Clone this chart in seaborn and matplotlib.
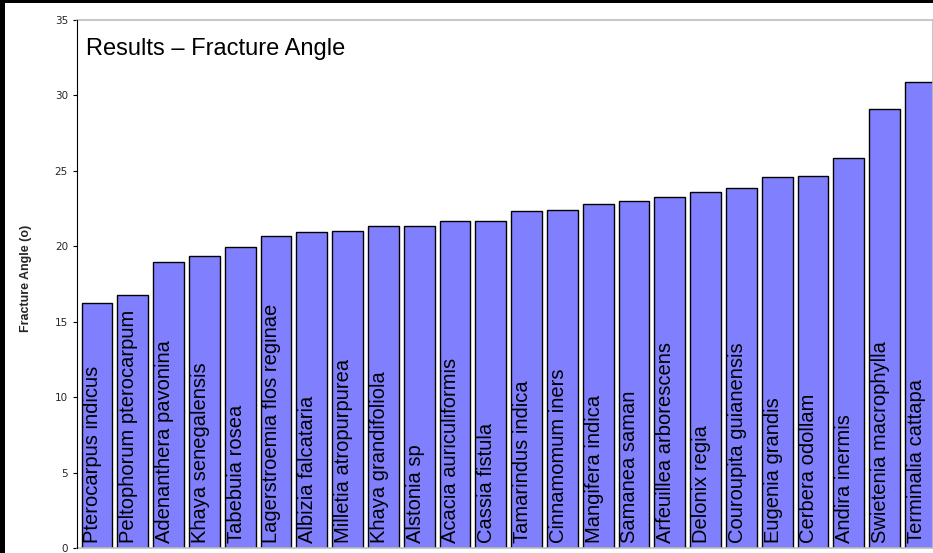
import matplotlib
matplotlib.use("Agg")
import matplotlib.pyplot as plt
from matplotlib.patches import Rectangle
import seaborn as sns
import pandas as pd

species = [
    "Pterocarpus indicus", "Peltophorum pterocarpum", "Adenanthera pavonina",
    "Khaya senegalensis", "Tabebuia rosea", "Lagerstroemia flos reginae",
    "Albizia falcataria", "Milletia atropurpurea", "Khaya grandifoliola",
    "Alstonia sp", "Acacia auriculiformis", "Cassia fistula",
    "Tamarindus indica", "Cinnamomum iners", "Mangifera indica",
    "Samanea saman", "Arfeuillea arborescens", "Delonix regia",
    "Couroupita guianensis", "Eugenia grandis", "Cerbera odollam",
    "Andira inermis", "Swietenia macrophylla", "Terminalia cattapa",
]
fracture_angle = [
    16.27, 16.78, 18.95, 19.33, 19.95, 20.65, 20.92, 21.03,
    21.34, 21.34, 21.67, 21.67, 22.37, 22.42, 22.80, 23.00,
    23.25, 23.60, 23.86, 24.60, 24.68, 25.87, 29.12, 30.87,
]
y_ticks = [0, 5, 10, 15, 20, 25, 30, 35]
title_text = "Results \u2013 Fracture Angle"
y_label = "Fracture Angle (o)"

df = pd.DataFrame({"species": species, "angle": fracture_angle})

sns.set_style("white")
plt.rcParams["font.family"] = ["Liberation Sans", "DejaVu Sans"]

W, H = 933, 553
fig = plt.figure(figsize=(W / 100, H / 100), dpi=100)
fig.patch.set_facecolor("white")

ax_left, ax_right, ax_top, ax_bottom = 77, 933, 20, 548
ax = fig.add_axes([ax_left / W, (H - ax_bottom) / H,
                   (ax_right - ax_left) / W, (ax_bottom - ax_top) / H])

bar_w = 0.86
sns.barplot(data=df, x="species", y="angle", color="#8080FF", saturation=1,
            width=bar_w, edgecolor="black", linewidth=1.0, ax=ax)

ax.set_xlim(-0.56, 23.35)
ax.set_ylim(0, 35)
ax.set_yticks(y_ticks)
ax.set_yticklabels([str(t) for t in y_ticks], fontfamily="DejaVu Sans",
                   fontsize=7.5)
ax.tick_params(axis="y", direction="out", length=2.9, width=0.8,
               color="black", pad=3.6, left=True)
ax.tick_params(axis="x", bottom=False, labelbottom=False)
ax.set_xlabel("")

for side in ["top", "bottom", "right"]:
    ax.spines[side].set_color("#bdbdbd")
    ax.spines[side].set_linewidth(1.2)
ax.spines["left"].set_color("black")
ax.spines["left"].set_linewidth(0.8)
ax.spines["left"].set_zorder(5)

ax.set_ylabel(y_label, fontsize=9, fontweight="bold")
ax.yaxis.set_label_coords((32.5 - ax_left) / (ax_right - ax_left), 0.511)

for i, name in enumerate(species):
    ax.annotate(name, xy=(i - bar_w / 2, 0), xytext=(1.2, 3.3),
                textcoords="offset points", rotation=90,
                ha="left", va="bottom", fontsize=14.5, color="black",
                annotation_clip=False)

ax.text((86 - ax_left) / (ax_right - ax_left), (ax_bottom - 55) / (ax_bottom - ax_top),
        title_text, transform=ax.transAxes, fontsize=17, ha="left",
        va="baseline", color="black")

# black frame strips of the original screenshot
fig.patches.append(Rectangle((0, 1 - 3 / H), 1, 3 / H, transform=fig.transFigure,
                             facecolor="black", edgecolor="none", zorder=10))
fig.patches.append(Rectangle((0, 0), 5 / W, 1, transform=fig.transFigure,
                             facecolor="black", edgecolor="none", zorder=10))

fig.savefig("out.png", dpi=100)
